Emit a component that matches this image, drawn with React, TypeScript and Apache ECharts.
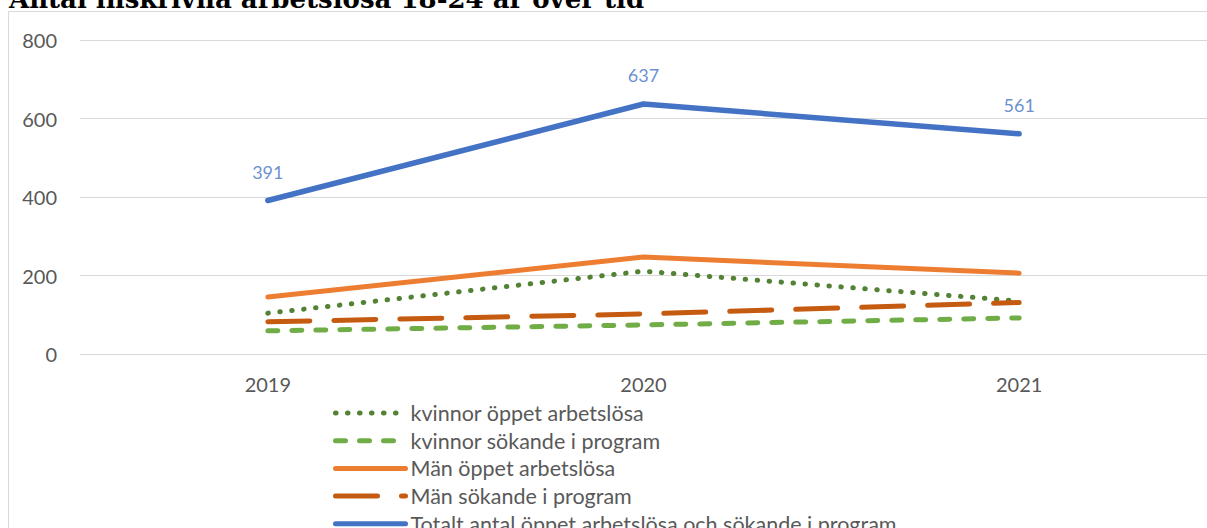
import React, { useEffect, useRef } from "react";
import * as echarts from "echarts";

const years = ["2019", "2020", "2021"];
const kvinnorOppet = [104, 211, 135];
const kvinnorProgram = [59, 74, 92];
const manOppet = [145, 247, 206];
const manProgram = [82, 102, 131];
const totalt = [391, 637, 561];
const yTicks = { min: 0, max: 800, interval: 200 };

const names = [
  "kvinnor öppet arbetslösa",
  "kvinnor sökande i program",
  "Män öppet arbetslösa",
  "Män sökande i program",
  "Totalt antal öppet arbetslösa och sökande i program",
];

const FONT = "Lato";

export default function App() {
  const ref = useRef<HTMLDivElement>(null);
  useEffect(() => {
    if (!ref.current) return;
    const chart = echarts.init(ref.current, null, { renderer: "svg" });
    const line = (name: string, data: number[], color: string, width: number, type: any, cap = "round") => ({
      name,
      type: "line",
      data,
      showSymbol: false,
      symbol: "none",
      lineStyle: { color, width, type, cap, join: "round" },
      itemStyle: { color },
    });
    chart.setOption({
      animation: false,
      backgroundColor: "#ffffff",
      textStyle: { fontFamily: FONT },
      graphic: [
        {
          type: "text",
          left: 9,
          top: -14,
          style: {
            text: "Antal inskrivna arbetslösa 18-24 år över tid",
            font: "bold 26px 'DejaVu Serif'",
            fill: "#000000",
          },
        },
        {
          type: "rect",
          shape: { x: 8.5, y: 11.5, width: 1300, height: 700 },
          style: { fill: "none", stroke: "#d9d9d9", lineWidth: 1 },
          silent: true,
        },
      ],
      grid: { left: 80, right: -13, top: 40, bottom: 174 },
      xAxis: {
        type: "category",
        data: years,
        boundaryGap: true,
        axisLine: { show: false },
        axisTick: { show: false },
        axisLabel: { color: "#595959", fontSize: 20, fontFamily: FONT, margin: 20 },
      },
      yAxis: {
        type: "value",
        min: yTicks.min,
        max: yTicks.max,
        interval: yTicks.interval,
        axisLine: { show: false },
        axisTick: { show: false },
        splitLine: { lineStyle: { color: "#d9d9d9", width: 1 } },
        axisLabel: { color: "#595959", fontSize: 20, fontFamily: FONT, margin: 23 },
      },
      legend: {
        data: names,
        orient: "vertical",
        left: 333,
        top: 402,
        height: 300,
        padding: 0,
        itemWidth: 70,
        itemHeight: 18,
        itemGap: 5.7,
        itemStyle: { color: "rgba(0,0,0,0)", borderWidth: 0, opacity: 0 },
        lineStyle: { width: 5 },
        textStyle: { color: "#595959", fontSize: 21.5, fontFamily: FONT, lineHeight: 18, padding: [0, 0, 0, 0] },
      },
      series: [
        line(names[0], kvinnorOppet, "#548235", 5, [0.5, 11.5]),
        line(names[1], kvinnorProgram, "#70ad47", 5, [10, 14]),
        line(names[2], manOppet, "#ed7d31", 5, "solid"),
        line(names[3], manProgram, "#c55a11", 5, [42, 24]),
        line(names[4], totalt, "#4472c4", 5.5, "solid"),
        {
          name: "labels",
          type: "scatter",
          data: totalt,
          symbolSize: 0,
          itemStyle: { color: "#4472c4" },
          label: {
            show: true,
            position: "top",
            distance: 20,
            color: "#4472c4",
            fontSize: 18,
            fontFamily: FONT,
          },
          z: 5,
        },
      ],
    });
    return () => chart.dispose();
  }, []);
  return <div ref={ref} style={{ position: "fixed", left: 0, top: 0, width: 1207, height: 528 }} />;
}
